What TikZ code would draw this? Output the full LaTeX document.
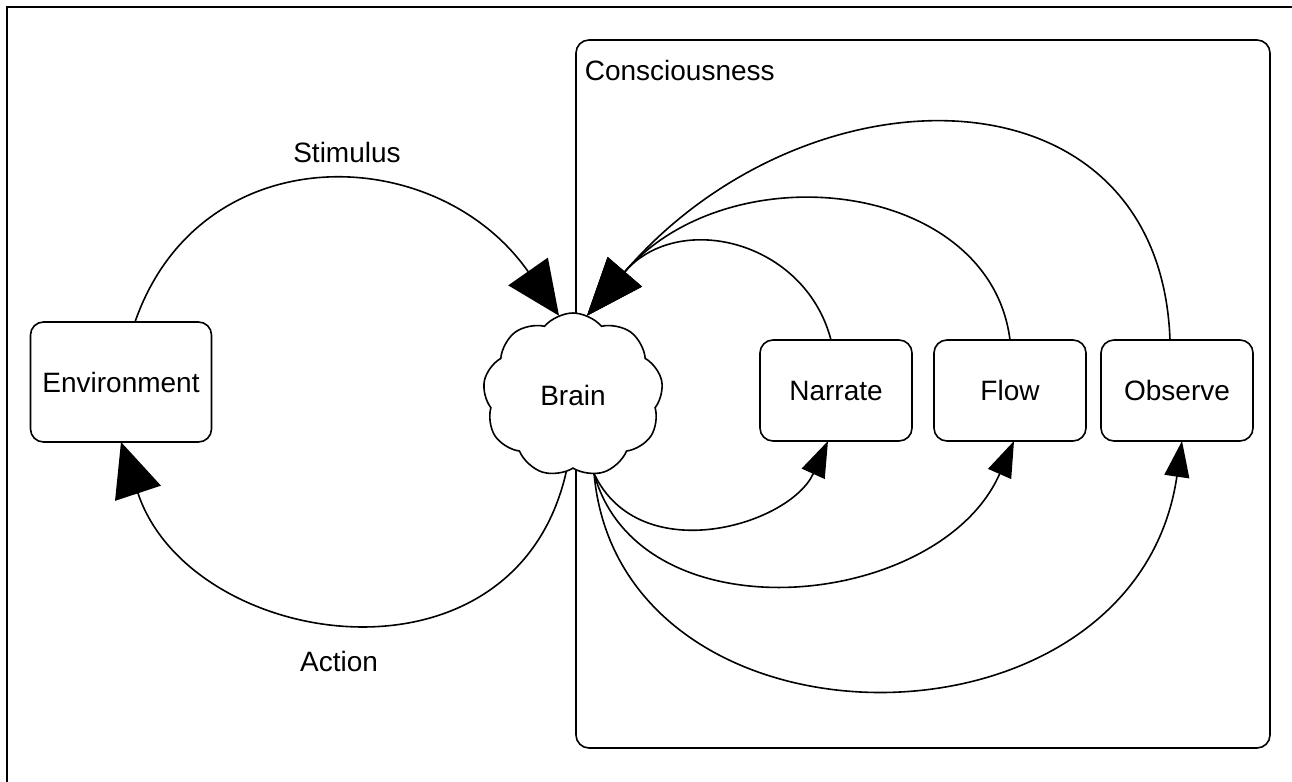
\documentclass[tikz,border=0pt]{standalone}
\usepackage{fontspec}
\setmainfont{Liberation Sans}
\usetikzlibrary{positioning,arrows.meta,shapes.symbols}

\begin{document}
\begin{tikzpicture}[
  x=0.5pt, y=-0.5pt,
  font=\fontsize{14}{17}\selectfont,
  line width=0.8pt,
  box/.style={draw, rounded corners=6.5pt, outer sep=0pt, minimum width=76pt, minimum height=50.5pt},
  bigtip/.style={-{Triangle[length=27pt,width=24pt]}},
  cstip/.style={-{Triangle[length=29pt,width=22.5pt]}},
  smalltip/.style={-{Triangle[length=18pt,width=12.5pt]}},
  lbl/.style={inner sep=0pt},
]
\useasboundingbox (0,0) rectangle (1292,782);
% ---------- frame ----------
\draw[line width=1pt] (7,782) -- (7,7) -- (1292,7);
% ---------- consciousness box ----------
\draw[rounded corners=6.5pt] (576,40) rectangle (1270,748);
\node[lbl, anchor=west] (ctitle) at (584,70) {Consciousness};
% ---------- nodes ----------
\node[box, minimum width=90.5pt, minimum height=60pt] (env) at (121,382) {Environment};
\node[draw, fill=white, cloud, cloud puffs=9, cloud puff arc=100, cloud ignores aspect,
      minimum width=90pt, minimum height=82pt, outer sep=0pt] (brain) at (573,395) {Brain};
\node[box] (narrate) at (836,390.5) {Narrate};
\node[box, right=11pt of narrate] (flow) {Flow};
\node[box, right=7.5pt of flow] (observe) {Observe};
% ---------- stimulus / action loop ----------
\draw[bigtip] ([xshift=7pt]env.north) .. controls (200,135) and (436,140) .. (brain.100);
\draw[bigtip] (brain.-95) .. controls (515,700) and (190,650) .. (env.south);
\node[lbl] (stim) at (347,152) {Stimulus};
\node[lbl] (act) at (339,661) {Action};
% ---------- back to brain ----------
\draw[cstip] ([xshift=-2.5pt]narrate.north) .. controls (805,240) and (678,210) .. (brain.80);
\draw[cstip] (flow.north) .. controls (990,180) and (730,150) .. (brain.80);
\draw[cstip] ([xshift=-3.5pt]observe.north) .. controls (1160,60) and (807,60) .. (brain.80);
% ---------- out of brain ----------
\draw[smalltip] (brain.-75) .. controls (640,570) and (790,525) .. ([xshift=-4pt]narrate.south);
\draw[smalltip] (brain.-75) .. controls (640,640) and (940,610) .. ([xshift=2pt]flow.south);
\draw[smalltip] (brain.-75) .. controls (620,765) and (1135,765) .. ([xshift=2.5pt]observe.south);
\end{tikzpicture}
\end{document}
